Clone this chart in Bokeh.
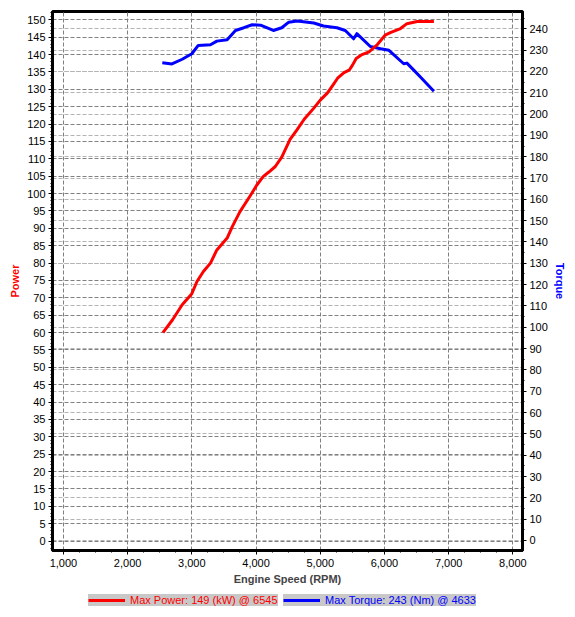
from bokeh.plotting import figure
from bokeh.layouts import column
from bokeh.models import (Range1d, LinearAxis, SingleIntervalTicker, Grid,
                          NumeralTickFormatter, Legend, LegendItem)
from bokeh.embed import file_html
from bokeh.resources import INLINE

# dyno readings taken off the chart
power_rpm = [2550, 2700, 2850, 3000, 3080, 3180, 3290, 3390, 3550, 3630, 3750,
             3900, 4010, 4110, 4200, 4300, 4400, 4530, 4640, 4750, 4900, 5000,
             5110, 5200, 5270, 5370, 5450, 5500, 5560, 5640, 5760, 5890, 6010,
             6100, 6250, 6350, 6510, 6770]
power_kw = [60.0, 63.7, 68.0, 71.2, 74.7, 77.6, 80.0, 83.8, 87.2, 90.5, 94.8,
            99.1, 102.4, 104.9, 106.2, 107.8, 110.5, 115.6, 118.4, 121.4, 124.6,
            126.9, 128.9, 131.3, 133.2, 134.8, 135.5, 136.9, 138.9, 139.9, 140.8,
            142.9, 145.6, 146.4, 147.5, 148.9, 149.5, 149.5]

torque_rpm = [2540, 2690, 2850, 3000, 3100, 3290, 3390, 3550, 3680, 3810, 3940,
              4070, 4270, 4400, 4510, 4640, 4900, 5050, 5260, 5390, 5520, 5570,
              5780, 5940, 6070, 6300, 6350, 6460, 6560, 6770]
torque_nm = [224.1, 223.5, 225.7, 228.3, 232.2, 232.5, 234.2, 234.9, 239.2,
             240.5, 241.9, 241.7, 239.2, 240.5, 243.1, 243.6, 242.7, 241.3,
             240.5, 239.2, 235.3, 237.7, 231.7, 230.6, 229.9, 223.6, 223.9,
             220.5, 217.4, 210.7]

power_label = "Max Power: 149 (kW) @ 6545"
torque_label = "Max Torque: 243 (Nm) @ 4633"

FONT = "Liberation Sans"
RED = "#ff0000"
BLUE = "#0000ff"
DARK_GRID = "#808080"
LIGHT_GRID = "#b4b4b4"

p = figure(width=575, height=587, x_range=Range1d(830, 8150),
           y_range=Range1d(-2.7, 152.4), output_backend="svg",
           toolbar_location=None, min_border_left=52, min_border_right=53,
           min_border_top=11, min_border_bottom=36)
p.extra_y_ranges = {"torque": Range1d(-4.7, 248.1)}
p.background_fill_color = "white"
p.border_fill_color = "white"
p.outline_line_color = "black"
p.outline_line_width = 3

p.xaxis.ticker = SingleIntervalTicker(interval=1000, num_minor_ticks=4)
p.xaxis.formatter = NumeralTickFormatter(format="0,0")
p.xaxis.axis_label = "Engine Speed (RPM)"
p.yaxis.ticker = SingleIntervalTicker(interval=5, num_minor_ticks=5)
p.yaxis.axis_label = "Power"
p.yaxis.axis_label_text_color = RED

torque_axis = LinearAxis(y_range_name="torque", axis_label="Torque",
                         ticker=SingleIntervalTicker(interval=10, num_minor_ticks=2))
torque_axis.axis_label_text_color = BLUE
p.add_layout(torque_axis, "right")

for ax in [p.xaxis[0], p.yaxis[0], torque_axis]:
    ax.axis_line_color = "black"
    ax.axis_line_width = 3
    ax.major_tick_in = 0
    ax.major_tick_out = 4
    ax.minor_tick_in = 0
    ax.minor_tick_out = 2
    ax.major_tick_line_color = "black"
    ax.minor_tick_line_color = "black"
    ax.major_label_text_font = FONT
    ax.major_label_text_font_size = "11px"
    ax.major_label_text_color = "black"
    ax.major_label_standoff = 3
    ax.axis_label_text_font = FONT
    ax.axis_label_text_font_size = "11px"
    ax.axis_label_text_font_style = "bold"
    ax.axis_label_standoff = 3
p.xaxis.major_label_standoff = 4

p.xgrid.grid_line_color = DARK_GRID
p.xgrid.grid_line_dash = "4 2"
p.ygrid.grid_line_color = DARK_GRID
p.ygrid.grid_line_dash = "4 2"

torque_grid = Grid(dimension=1, ticker=torque_axis.ticker, y_range_name="torque",
                   grid_line_color=LIGHT_GRID, grid_line_dash="4 2")
p.add_layout(torque_grid)

p.line(torque_rpm, torque_nm, y_range_name="torque",
       line_color=BLUE, line_width=3, line_join="round")
p.line(power_rpm, power_kw, line_color=RED, line_width=3, line_join="round")

# legend strip under the chart: two boxes side by side, each label in its own colour.
# the strip's frame lines up with the chart frame; its own lines fall outside its
# 0..1 ranges so only the legend samples show
leg = figure(width=575, height=30, x_range=Range1d(0, 1), y_range=Range1d(0, 1),
             output_backend="svg", toolbar_location=None, min_border=0,
             x_axis_type=None, y_axis_type=None)
leg.grid.visible = False
leg.outline_line_color = None
leg.background_fill_color = "white"
leg.border_fill_color = "white"

for label, xs, ys, colour, x0 in [(power_label, power_rpm, power_kw, RED, 36),
                                  (torque_label, torque_rpm, torque_nm, BLUE, 231)]:
    sample = leg.line(xs, ys, line_color=colour, line_width=3)
    box = Legend(items=[LegendItem(label=label, renderers=[sample])],
                 location=(x0, 11), orientation="horizontal",
                 padding=4, margin=0, spacing=0, glyph_width=37,
                 glyph_height=10, label_height=10, label_standoff=5,
                 label_text_font=FONT, label_text_font_size="11px",
                 label_text_color=colour, label_text_baseline="middle",
                 background_fill_color="#c8c8c8", background_fill_alpha=1,
                 border_line_color=None)
    leg.add_layout(box)

layout = column(p, leg, spacing=0)
open("out.html", "w").write(file_html(layout, INLINE))
